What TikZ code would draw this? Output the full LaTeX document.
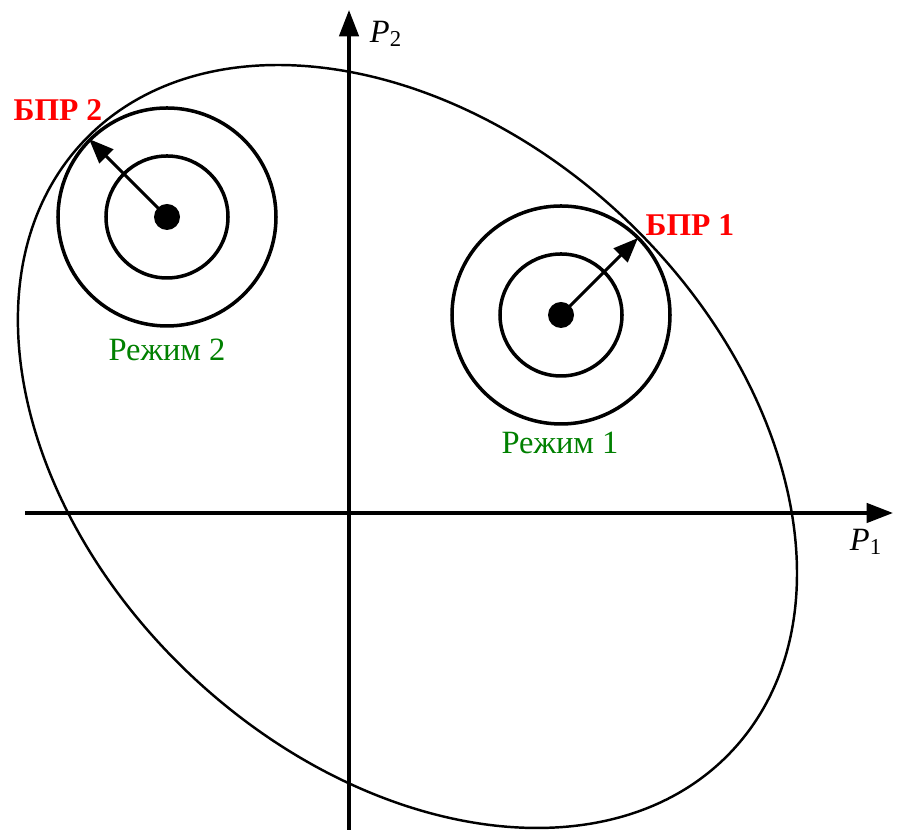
\documentclass[tikz,border=0pt]{standalone}
\usepackage{fontspec}
\setmainfont{Liberation Serif}
\newfontfamily\serifcyr{Liberation Serif}
\usetikzlibrary{arrows.meta}
\definecolor{bprred}{RGB}{255,0,0}
\definecolor{modegreen}{RGB}{0,128,0}
\begin{document}
\begin{tikzpicture}[x=0.02cm,y=0.02cm,
  axisline/.style={line width=2pt,-{Triangle[length=15pt,width=11pt]}},
  ring/.style={line width=2pt},
  bound/.style={line width=1.4pt},
  radarrow/.style={line width=1.7pt,-{Triangle[length=14pt,width=11pt]}},
  bprlabel/.style={text=bprred,font=\serifcyr\bfseries\fontsize{18}{20}\selectfont,inner sep=0pt},
  modelabel/.style={text=modegreen,font=\serifcyr\fontsize{18.5}{20}\selectfont,inner sep=0pt},
  axislabel/.style={font=\serifcyr\fontsize{18.5}{20}\selectfont,inner sep=0pt}]
\useasboundingbox (0,0) rectangle (903,830);
% axes
\coordinate (xs) at (25,317);
\coordinate (xe) at (893,317);
\coordinate (ys) at (349,0);
\coordinate (ye) at (349,820);
\draw[axisline] (xs) -- (xe);
\draw[axisline] (ys) -- (ye);
\node[axislabel] (p2) at (386,796) {\textit{P}\textsubscript{2}};
\node[axislabel] (p1) at (866,288) {\textit{P}\textsubscript{1}};
% boundary ellipse
\coordinate (ec) at (407.5,383.5);
\draw[bound,rotate around={-43.2:(ec)}] (ec) ellipse[x radius=445,y radius=315];
% mode 2
\coordinate (c2) at (167,613);
\coordinate (t2) at (89,691);
\draw[ring] (c2) circle[radius=61];
\draw[ring] (c2) circle[radius=109];
\fill (c2) circle[radius=13];
\draw[radarrow] (c2) -- (t2);
% mode 1
\coordinate (c1) at (561,515);
\coordinate (t1) at (638,592);
\draw[ring] (c1) circle[radius=61];
\draw[ring] (c1) circle[radius=109];
\fill (c1) circle[radius=13];
\draw[radarrow] (c1) -- (t1);
% labels
\node[bprlabel] (bpr2) at (58,720) {БПР 2};
\node[bprlabel] (bpr1) at (690,605) {БПР 1};
\node[modelabel] (m2) at (167,480) {Режим 2};
\node[modelabel] (m1) at (560,387) {Режим 1};
\end{tikzpicture}
\end{document}
